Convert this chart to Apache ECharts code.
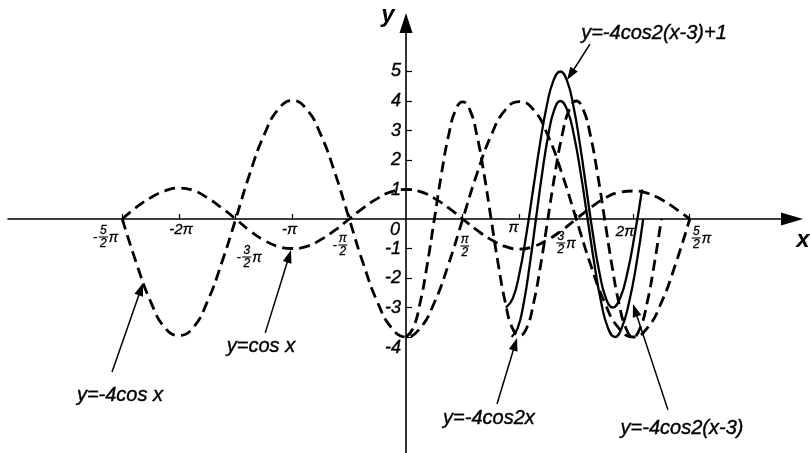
<!DOCTYPE html>
<html>
<head>
<meta charset="utf-8">
<script src="https://cdn.jsdelivr.net/npm/echarts@6/dist/echarts.min.js"></script>
<style>
  html, body { margin: 0; padding: 0; background: #fff; }
  #chart { width: 810px; height: 453px; }
</style>
</head>
<body>
<div id="chart"></div>
<script>
// All x values are expressed in multiples of π.

// Sample positions for the period-2π curves (step π/8)
const waveX = [-2.5, -2.375, -2.25, -2.125, -2, -1.875, -1.75, -1.625, -1.5, -1.375, -1.25, -1.125,
  -1, -0.875, -0.75, -0.625, -0.5, -0.375, -0.25, -0.125, 0, 0.125, 0.25, 0.375, 0.5, 0.625,
  0.75, 0.875, 1, 1.125, 1.25, 1.375, 1.5, 1.625, 1.75, 1.875, 2, 2.125, 2.25, 2.375, 2.5];

// y = cos x
const cosY = [0, 0.40, 0.72, 0.95, 1.05, 0.97, 0.72, 0.38, 0, -0.40, -0.72, -0.93,
  -1.0, -0.93, -0.70, -0.38, 0, 0.38, 0.70, 0.93, 1.0, 0.93, 0.70, 0.38, 0, -0.38,
  -0.70, -0.93, -1.02, -0.93, -0.70, -0.38, 0, 0.38, 0.70, 0.90, 0.95, 0.88, 0.66, 0.35, 0];

// y = -4cos x
const negFourCosY = [0, -1.50, -2.80, -3.68, -3.95, -3.68, -2.80, -1.50, 0, 1.55, 2.85, 3.72,
  4.02, 3.72, 2.85, 1.55, 0, -1.53, -2.83, -3.70, -4.0, -3.70, -2.83, -1.53, 0, 1.53,
  2.83, 3.70, 3.98, 3.70, 2.83, 1.53, 0, -1.53, -2.83, -3.70, -4.0, -3.70, -2.83, -1.53, 0];

// y = -4cos2x (step π/16, from 0 to 9π/4)
const doubleX = [0, 0.0625, 0.125, 0.1875, 0.25, 0.3125, 0.375, 0.4375, 0.5, 0.5625, 0.625,
  0.6875, 0.75, 0.8125, 0.875, 0.9375, 1, 1.0625, 1.125, 1.1875, 1.25, 1.3125, 1.375,
  1.4375, 1.5, 1.5625, 1.625, 1.6875, 1.75, 1.8125, 1.875, 1.9375, 2, 2.0625, 2.125, 2.1875, 2.25];
const doubleY = [-4, -3.7, -2.83, -1.53, 0, 1.53, 2.83, 3.7, 3.97, 3.7, 2.83, 1.53, 0,
  -1.53, -2.83, -3.7, -3.95, -3.7, -2.83, -1.53, 0, 1.53, 2.83, 3.7, 4, 3.7, 2.83, 1.53, 0,
  -1.53, -2.83, -3.7, -4, -3.7, -2.83, -1.53, 0];

// y = -4cos2(x-3)
const shiftX = [0.93, 0.984, 1.038, 1.091, 1.145, 1.199, 1.253, 1.306, 1.36, 1.42, 1.48,
  1.54, 1.60, 1.66, 1.72, 1.78, 1.84, 1.90, 1.965, 2.03, 2.09];
const shiftY = [-4, -3.7, -2.83, -1.53, 0, 1.53, 2.83, 3.7, 4, 3.7, 2.83, 1.53, 0,
  -1.53, -2.83, -3.7, -4, -3.7, -2.83, -1.53, 0];

// y = -4cos2(x-3)+1
const liftX = [0.88, 0.94, 1.0, 1.06, 1.12, 1.18, 1.24, 1.30, 1.36, 1.4175, 1.475, 1.5325,
  1.59, 1.6475, 1.705, 1.7625, 1.82, 1.885, 1.95, 2.015, 2.08];
const liftY = [-3, -2.7, -1.83, -0.53, 1, 2.53, 3.83, 4.7, 5, 4.7, 3.83, 2.53, 1,
  -0.53, -1.83, -2.7, -3, -2.7, -1.83, -0.53, 1];

// Axis ticks and labels
const xTickValues = [-2.5, -2, -1.5, -1, -0.5, 0, 0.5, 1, 1.5, 2, 2.5];
const xTickLabels = ['-5/2π', '-2π', '-3/2π', '-π', '-π/2', '0', 'π/2', 'π', '3/2π', '2π', '5/2π'];
const yTickValues = [-4, -3, -2, -1, 1, 2, 3, 4, 5];

// Curve captions
const captions = ['y=-4cos x', 'y=cos x', 'y=-4cos2x', 'y=-4cos2(x-3)', 'y=-4cos2(x-3)+1'];

// ---- layout (pixel offsets of the tick labels from their ticks) ----
const xLabelOffsets = [[-17, 18], [2, 11], [13, 38], [-3, 11], [-10, 26], [-11, 11],
  [2, 27], [-6, 9], [-10, 24], [-8, 13], [12, 19]];
const yLabelShift = { '-4': 11 };
// caption centre, arrow tail, arrow tip — in axis units
const captionPlacement = [
  { text: [-2.52, -5.97], tail: [-2.59, -5.19], tip: [-2.317, -2.17] },
  { text: [-1.278, -4.31], tail: [-1.24, -3.86], tip: [-1.013, -1.05] },
  { text: [0.731, -6.75], tail: [0.802, -6.27], tip: [0.978, -4.03] },
  { text: [2.432, -7.09], tail: [2.308, -6.47], tip: [2.0, -2.88] },
  { text: [2.185, 6.30], tail: [1.621, 5.93], tip: [1.419, 4.71] }
];

const FONT = '"Liberation Sans", Arial, sans-serif';
const pairs = (xs, ys) => xs.map((x, i) => [x, ys[i]]);

const dashed = { color: '#000', width: 2.8, type: [11, 6], cap: 'butt' };
const solid = { color: '#000', width: 2.3 };

function curve(name, xs, ys, style) {
  return {
    name, type: 'line', data: pairs(xs, ys), smooth: 0.5,
    showSymbol: false, symbol: 'none', silent: true, clip: false,
    lineStyle: style, z: 3
  };
}

const option = {
  animation: false,
  backgroundColor: '#fff',
  grid: { left: 8, right: 18, top: 23, bottom: 0, containLabel: false, outerBoundsMode: 'none' },
  xAxis: {
    type: 'value', min: -3.5066, max: 3.4009,
    axisLine: {
      onZero: true, symbol: ['none', 'triangle'], symbolSize: [13, 22],
      lineStyle: { color: '#000', width: 1.6 }
    },
    axisTick: { show: true, inside: true, length: 5, customValues: xTickValues.filter(v => v !== 0),
      lineStyle: { color: '#000', width: 1.2 } },
    axisLabel: { show: false },
    splitLine: { show: false }
  },
  yAxis: {
    type: 'value', min: -7.932, max: 6.644,
    axisLine: {
      onZero: true, symbol: ['none', 'triangle'], symbolSize: [13, 20],
      lineStyle: { color: '#000', width: 1.6 }
    },
    axisTick: { show: true, inside: true, length: 6, customValues: yTickValues,
      lineStyle: { color: '#000', width: 1.2 } },
    axisLabel: { show: false },
    splitLine: { show: false }
  },
  series: [
    curve('y=cos x', waveX, cosY, dashed),
    curve('y=-4cos x', waveX, negFourCosY, dashed),
    curve('y=-4cos2x', doubleX, doubleY, dashed),
    curve('y=-4cos2(x-3)', shiftX, shiftY, solid),
    curve('y=-4cos2(x-3)+1', liftX, liftY, solid)
  ]
};

const chart = echarts.init(document.getElementById('chart'), null, { renderer: 'canvas' });
chart.setOption(option);

const toPx = p => chart.convertToPixel({ seriesIndex: 0 }, p);

function textEl(str, x, y, font, align, vAlign, heavy) {
  return {
    type: 'text', silent: true, z: 10,
    style: { text: str, x, y, font, fill: '#000',
      stroke: heavy ? '#000' : null, lineWidth: heavy ? heavy : 0,
      align: align || 'center', verticalAlign: vAlign || 'middle',
      textAlign: align || 'center', textVerticalAlign: vAlign || 'middle' }
  };
}

function tickLabel(label, cx, cy) {
  const els = [];
  const m = label.match(/^(-?)([^/]+)\/(\d)(π?)$/);
  if (!m) {
    const isZero = label === '0';
    els.push(textEl(label, cx, cy, 'italic ' + (isZero ? 18 : 15) + 'px ' + FONT, 'center', 'middle', 0.3));
    return els;
  }
  const sign = m[1], num = m[2], den = m[3], suffix = m[4];
  const signW = sign ? 7 : 0, barW = 9, piW = suffix ? 10 : 0;
  const total = signW + barW + (suffix ? 1 : 0) + piW;
  const x0 = cx - total / 2;
  const small = 'italic 12px ' + FONT;
  if (sign) els.push(textEl('-', x0 + signW / 2, cy, 'italic 13px ' + FONT, 'center', 'middle', 0.3));
  const bx0 = x0 + signW, bx1 = bx0 + barW, bm = (bx0 + bx1) / 2;
  els.push({ type: 'line', silent: true, z: 10,
    shape: { x1: bx0, y1: cy, x2: bx1, y2: cy }, style: { stroke: '#000', lineWidth: 1.1 } });
  els.push(textEl(num, bm, cy - 0.5, small, 'center', 'bottom', 0.3));
  els.push(textEl(den, bm, cy + 1, small, 'center', 'top', 0.3));
  if (suffix) els.push(textEl(suffix, bx1 + 1, cy + 1, 'italic 14px ' + FONT, 'left', 'middle', 0.3));
  return els;
}

function arrow(tail, tip) {
  const dx = tip[0] - tail[0], dy = tip[1] - tail[1];
  const len = Math.hypot(dx, dy), ux = dx / len, uy = dy / len;
  const L = 13, W = 4.5;
  const bx = tip[0] - L * ux, by = tip[1] - L * uy;
  return [
    { type: 'line', silent: true, z: 9,
      shape: { x1: tail[0], y1: tail[1], x2: bx + ux * 2, y2: by + uy * 2 },
      style: { stroke: '#000', lineWidth: 1.5 } },
    { type: 'polygon', silent: true, z: 9,
      shape: { points: [tip, [bx - W * uy, by + W * ux], [bx + W * uy, by - W * ux]] },
      style: { fill: '#000' } }
  ];
}

const graphics = [];
xTickValues.forEach((v, i) => {
  const p = toPx([v, 0]);
  const off = xLabelOffsets[i];
  graphics.push(...tickLabel(xTickLabels[i], p[0] + off[0], p[1] + off[1]));
});

yTickValues.forEach(v => {
  const p = toPx([0, v]);
  graphics.push(textEl(String(v), p[0] - 5, p[1] + (yLabelShift[String(v)] || 0),
    'italic 18px ' + FONT, 'right', 'middle', 0.4));
});

captions.forEach((c, i) => {
  const pl = captionPlacement[i];
  const t = toPx(pl.text);
  graphics.push(textEl(c, t[0], t[1], 'italic 20px ' + FONT, 'center', 'middle', 0.4));
  graphics.push(...arrow(toPx(pl.tail), toPx(pl.tip)));
});

// axis names
const yEnd = toPx([0, 6.644]);
graphics.push(textEl('y', yEnd[0] - 18, yEnd[1] - 8, 'italic bold 24px ' + FONT));
const xEnd = toPx([3.4009, 0]);
graphics.push(textEl('x', xEnd[0] + 11, xEnd[1] + 21, 'italic bold 24px ' + FONT));

chart.setOption({ graphic: { elements: graphics } });
</script>
</body>
</html>
